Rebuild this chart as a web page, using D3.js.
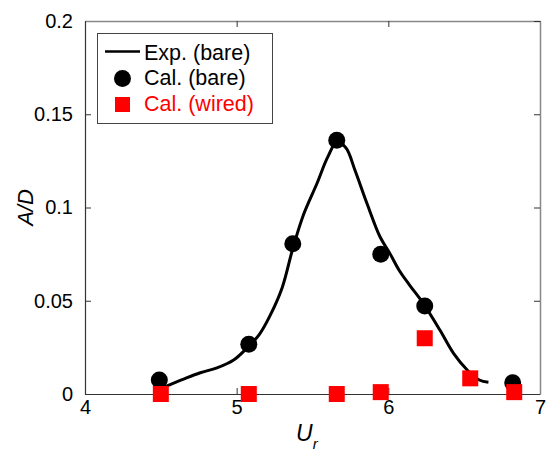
<!DOCTYPE html>
<html>
<head>
<meta charset="utf-8">
<script src="https://cdn.jsdelivr.net/npm/d3@7"></script>
<style>
  body { margin: 0; background: #fff; }
  text { font-family: Arial, "Liberation Sans", sans-serif; }
</style>
</head>
<body>
<div id="chart"></div>
<script>
const expUr = [4.53, 4.65, 4.76, 4.87, 4.98, 5.06, 5.15, 5.22, 5.30, 5.37, 5.44, 5.53, 5.60, 5.66, 5.72, 5.78, 5.86, 5.945, 6.01, 6.07, 6.14, 6.23, 6.34, 6.43, 6.52, 6.60, 6.66];
const expAD = [0.004, 0.008, 0.0114, 0.014, 0.0182, 0.024, 0.032, 0.042, 0.057, 0.078, 0.096, 0.113, 0.127, 0.135, 0.132, 0.120, 0.102, 0.0843, 0.0754, 0.0665, 0.0584, 0.0486, 0.0343, 0.0218, 0.0129, 0.0075, 0.0063];

// Calculated, bare
const bareUr = [4.49, 5.08, 5.37, 5.66, 5.95, 6.24, 6.82];
const bareAD = [0.0075, 0.0267, 0.0806, 0.136, 0.0749, 0.0472, 0.006];

// Calculated, wired
const wiredUr = [4.50, 5.08, 5.66, 5.95, 6.24, 6.54, 6.83];
const wiredAD = [0.0, 0.0, 0.0, 0.001, 0.0299, 0.0084, 0.001];

const xTicks = [4, 5, 6, 7];
const xTickLabels = ["4", "5", "6", "7"];
const yTicks = [0, 0.05, 0.1, 0.15, 0.2];
const yTickLabels = ["0", "0.05", "0.1", "0.15", "0.2"];

const legendLabels = ["Exp. (bare)", "Cal. (bare)", "Cal. (wired)"];

const W = 549, H = 453;
const margin = {top: 21, right: 9, bottom: 59, left: 85};

const svg = d3.select("#chart")
    .append("svg")
    .attr("width", W)
    .attr("height", H);

const x = d3.scaleLinear()
    .domain([4, 7])
    .range([margin.left, W - margin.right]);

const y = d3.scaleLinear()
    .domain([0, 0.2])
    .range([H - margin.bottom, margin.top]);

// Axes (ticks point inward)
const xAxis = svg.append("g")
    .attr("transform", `translate(0,${y(0)})`)
    .call(d3.axisBottom(x).tickValues(xTicks).tickSizeInner(-6).tickSizeOuter(0)
        .tickPadding(6).tickFormat((d, i) => xTickLabels[i]));

const yAxis = svg.append("g")
    .attr("transform", `translate(${x(4)},0)`)
    .call(d3.axisLeft(y).tickValues(yTicks).tickSizeInner(-6).tickSizeOuter(0)
        .tickPadding(12).tickFormat((d, i) => yTickLabels[i]));

const topAxis = svg.append("g")
    .attr("transform", `translate(0,${y(0.2)})`)
    .call(d3.axisTop(x).tickValues(xTicks).tickSizeInner(-6).tickSizeOuter(0).tickFormat(""));

const rightAxis = svg.append("g")
    .attr("transform", `translate(${x(7)},0)`)
    .call(d3.axisRight(y).tickValues(yTicks).tickSizeInner(-6).tickSizeOuter(0).tickFormat(""));

[xAxis, yAxis].forEach(g => {
    g.select(".domain").attr("stroke", "#333").attr("stroke-width", 1.2);
    g.selectAll(".tick line").attr("stroke", "#333");
    g.selectAll(".tick text").attr("font-size", 20).attr("fill", "#000")
        .style("font-family", "Arial, 'Liberation Sans', sans-serif");
});
[topAxis, rightAxis].forEach(g => {
    g.select(".domain").attr("stroke", "#888").attr("stroke-width", 1.5);
    g.selectAll(".tick line").attr("stroke", "#333");
});

// Axis titles
svg.append("text")
    .attr("transform", `translate(33,${(y(0) + y(0.2)) / 2}) rotate(-90)`)
    .attr("text-anchor", "middle")
    .attr("font-size", 22)
    .attr("font-style", "italic")
    .text("A/D");

const xt = svg.append("text")
    .attr("x", 296)
    .attr("y", 441)
    .attr("font-size", 23)
    .attr("font-style", "italic");
xt.append("tspan").text("U");
xt.append("tspan").attr("font-size", 15).attr("dy", 8).text("r");

// Experimental line
const expData = expUr.map((u, i) => ({u, a: expAD[i]}));
svg.append("path")
    .datum(expData)
    .attr("fill", "none")
    .attr("stroke", "#000")
    .attr("stroke-width", 3)
    .attr("stroke-linejoin", "round")
    .attr("d", d3.line()
        .x(d => x(d.u))
        .y(d => y(d.a))
        .curve(d3.curveCatmullRom));

// Calculated bare
svg.append("g")
    .selectAll("circle")
    .data(bareUr.map((u, i) => ({u, a: bareAD[i]})))
    .join("circle")
    .attr("cx", d => x(d.u))
    .attr("cy", d => y(d.a))
    .attr("r", 8.5)
    .attr("fill", "#000");

// Calculated wired
const sq = 16;
svg.append("g")
    .selectAll("rect")
    .data(wiredUr.map((u, i) => ({u, a: wiredAD[i]})))
    .join("rect")
    .attr("x", d => x(d.u) - sq / 2)
    .attr("y", d => y(d.a) - sq / 2)
    .attr("width", sq)
    .attr("height", sq)
    .attr("fill", "#ff0000");

// Legend
const lg = svg.append("g");
lg.append("rect")
    .attr("x", 97.5).attr("y", 33.5)
    .attr("width", 175).attr("height", 90)
    .attr("fill", "#fff")
    .attr("stroke", "#444");

lg.append("line")
    .attr("x1", 105).attr("x2", 140)
    .attr("y1", 51.5).attr("y2", 51.5)
    .attr("stroke", "#000").attr("stroke-width", 2.5);
lg.append("circle")
    .attr("cx", 122.5).attr("cy", 78.5).attr("r", 8.5)
    .attr("fill", "#000");
lg.append("rect")
    .attr("x", 115).attr("y", 97).attr("width", 15).attr("height", 15)
    .attr("fill", "#ff0000");

lg.selectAll("text.lab")
    .data(legendLabels)
    .join("text")
    .attr("class", "lab")
    .attr("x", 144)
    .attr("y", (d, i) => 59.5 + i * 25.7)
    .attr("font-size", 21.5)
    .attr("fill", (d, i) => i === 2 ? "#ff0000" : "#000")
    .text(d => d);
</script>
</body>
</html>
